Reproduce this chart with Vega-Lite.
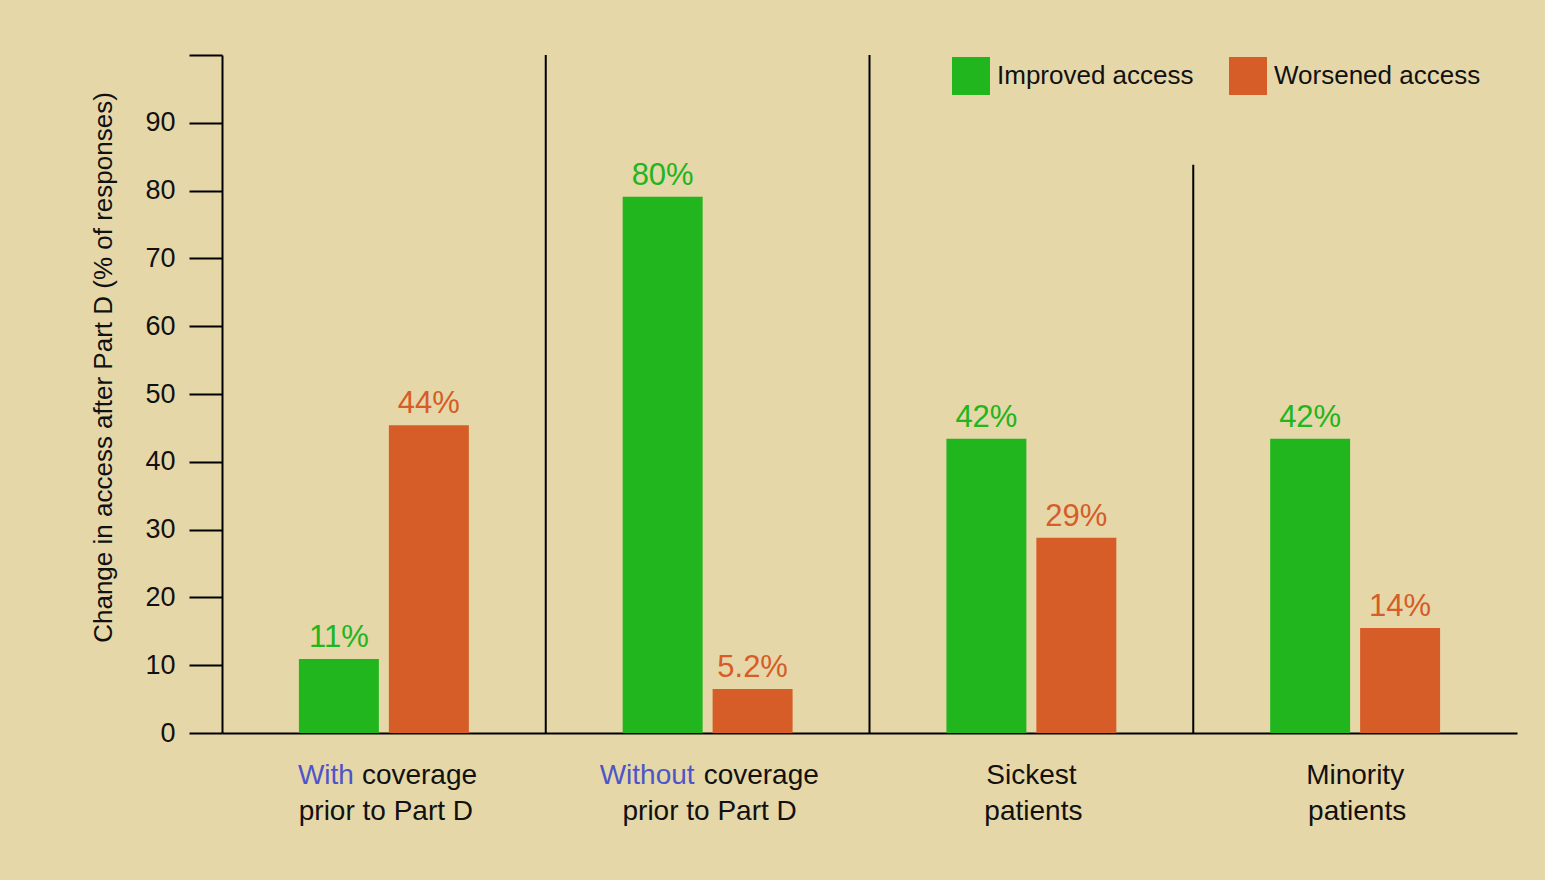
{
  "$schema": "https://vega.github.io/schema/vega-lite/v6.json",
  "width": 1295,
  "height": 678,
  "autosize": {"type": "none"},
  "padding": {"left": 222, "top": 55, "right": 28, "bottom": 147},
  "background": "#e6d7a8",
  "config": {"view": {"stroke": null}, "axis": {"grid": false}},
  "datasets": {
    "bars": [
      {"group": "With coverage prior to Part D", "series": "Improved access", "value": 10.9, "label": "11%"},
      {"group": "With coverage prior to Part D", "series": "Worsened access", "value": 45.4, "label": "44%"},
      {"group": "Without coverage prior to Part D", "series": "Improved access", "value": 79.1, "label": "80%"},
      {"group": "Without coverage prior to Part D", "series": "Worsened access", "value": 6.5, "label": "5.2%"},
      {"group": "Sickest patients", "series": "Improved access", "value": 43.4, "label": "42%"},
      {"group": "Sickest patients", "series": "Worsened access", "value": 28.8, "label": "29%"},
      {"group": "Minority patients", "series": "Improved access", "value": 43.4, "label": "42%"},
      {"group": "Minority patients", "series": "Worsened access", "value": 15.5, "label": "14%"}
    ],
    "seps": [
      {"group": "Without coverage prior to Part D", "value": 100},
      {"group": "Sickest patients", "value": 100},
      {"group": "Minority patients", "value": 83.8}
    ],
    "xlabels": [
      {"group": "With coverage prior to Part D", "part": "lead1", "text": "With"},
      {"group": "With coverage prior to Part D", "part": "rest1", "text": "coverage"},
      {"group": "Without coverage prior to Part D", "part": "lead2", "text": "Without"},
      {"group": "Without coverage prior to Part D", "part": "rest2", "text": "coverage"},
      {"group": "Sickest patients", "part": "title", "text": "Sickest"},
      {"group": "Minority patients", "part": "title", "text": "Minority"},
      {"group": "With coverage prior to Part D", "part": "line2", "text": "prior to Part D"},
      {"group": "Without coverage prior to Part D", "part": "line2", "text": "prior to Part D"},
      {"group": "Sickest patients", "part": "line2", "text": "patients"},
      {"group": "Minority patients", "part": "line2", "text": "patients"}
    ]
  },
  "layer": [
    {
      "data": {"name": "bars"},
      "mark": {"type": "bar"},
      "encoding": {
        "x": {"field": "group", "type": "nominal",
          "scale": {"domain": ["With coverage prior to Part D", "Without coverage prior to Part D", "Sickest patients", "Minority patients"], "paddingInner": 0, "paddingOuter": 0},
          "axis": {"labels": false, "ticks": false, "domainColor": "black", "domainWidth": 2, "title": null}},
        "xOffset": {"field": "series", "type": "nominal",
          "scale": {"domain": ["Improved access", "Worsened access"], "paddingInner": 0.111, "paddingOuter": 0.855}},
        "y": {"field": "value", "type": "quantitative",
          "scale": {"domain": [0, 100], "nice": false},
          "axis": {"values": [0, 10, 20, 30, 40, 50, 60, 70, 80, 90, 100], "tickSize": 33, "tickWidth": 2, "tickColor": "black",
            "domainColor": "black", "domainWidth": 2, "labelFont": "Liberation Sans", "labelFontSize": 27, "labelColor": "#111",
            "labelPadding": 14, "labelExpr": "datum.value == 100 ? '' : datum.label",
            "title": "Change in access after Part D (% of responses)", "titleFont": "Liberation Sans", "titleFontSize": 26,
            "titleFontWeight": "normal", "titleColor": "#111", "titleAngle": -90, "titleX": -111, "titleY": 312,
            "titleAlign": "center", "titleBaseline": "alphabetic"}},
        "color": {"field": "series", "type": "nominal",
          "scale": {"domain": ["Improved access", "Worsened access"], "range": ["#21b51e", "#d65c28"]},
          "legend": {"orient": "none", "legendX": 730, "legendY": 2, "direction": "horizontal", "title": null,
            "symbolType": "square", "symbolSize": 1444, "symbolStrokeWidth": 0, "symbolOpacity": 1,
            "labelFont": "Liberation Sans", "labelFontSize": 26, "labelColor": "#111", "labelOffset": 7, "labelLimit": 400, "columnPadding": 35}}
      }
    },
    {
      "data": {"name": "bars"},
      "mark": {"type": "text", "baseline": "alphabetic", "dy": -12, "font": "Liberation Sans", "fontSize": 31},
      "encoding": {
        "x": {"field": "group", "type": "nominal"},
        "xOffset": {"field": "series", "type": "nominal"},
        "y": {"field": "value", "type": "quantitative", "title": "Change in access after Part D (% of responses)"},
        "text": {"field": "label"},
        "color": {"field": "series", "type": "nominal"}
      }
    },
    {
      "data": {"name": "seps"},
      "mark": {"type": "rule", "color": "black", "strokeWidth": 2},
      "encoding": {
        "x": {"field": "group", "type": "nominal", "bandPosition": 0},
        "y": {"field": "value", "type": "quantitative", "title": "Change in access after Part D (% of responses)"},
        "y2": {"datum": 0}
      }
    },
    {
      "data": {"name": "xlabels"},
      "transform": [{"filter": "datum.part == 'lead1'"}],
      "mark": {"type": "text", "align": "right", "baseline": "alphabetic", "dx": -30, "dy": 51, "font": "Liberation Sans", "fontSize": 28, "color": "#4d55c8"},
      "encoding": {"x": {"field": "group", "type": "nominal"}, "y": {"datum": 0}, "text": {"field": "text"}}
    },
    {
      "data": {"name": "xlabels"},
      "transform": [{"filter": "datum.part == 'rest1'"}],
      "mark": {"type": "text", "align": "left", "baseline": "alphabetic", "dx": -22, "dy": 51, "font": "Liberation Sans", "fontSize": 28, "color": "#111"},
      "encoding": {"x": {"field": "group", "type": "nominal"}, "y": {"datum": 0}, "text": {"field": "text"}}
    },
    {
      "data": {"name": "xlabels"},
      "transform": [{"filter": "datum.part == 'lead2'"}],
      "mark": {"type": "text", "align": "right", "baseline": "alphabetic", "dx": -13, "dy": 51, "font": "Liberation Sans", "fontSize": 28, "color": "#4d55c8"},
      "encoding": {"x": {"field": "group", "type": "nominal"}, "y": {"datum": 0}, "text": {"field": "text"}}
    },
    {
      "data": {"name": "xlabels"},
      "transform": [{"filter": "datum.part == 'rest2'"}],
      "mark": {"type": "text", "align": "left", "baseline": "alphabetic", "dx": -4, "dy": 51, "font": "Liberation Sans", "fontSize": 28, "color": "#111"},
      "encoding": {"x": {"field": "group", "type": "nominal"}, "y": {"datum": 0}, "text": {"field": "text"}}
    },
    {
      "data": {"name": "xlabels"},
      "transform": [{"filter": "datum.part == 'title'"}],
      "mark": {"type": "text", "align": "center", "baseline": "alphabetic", "dy": 51, "font": "Liberation Sans", "fontSize": 28, "color": "#111"},
      "encoding": {"x": {"field": "group", "type": "nominal"}, "y": {"datum": 0}, "text": {"field": "text"}}
    },
    {
      "data": {"name": "xlabels"},
      "transform": [{"filter": "datum.part == 'line2'"}],
      "mark": {"type": "text", "align": "center", "baseline": "alphabetic", "dy": 87, "dx": 2, "font": "Liberation Sans", "fontSize": 28, "color": "#111"},
      "encoding": {"x": {"field": "group", "type": "nominal"}, "y": {"datum": 0}, "text": {"field": "text"}}
    }
  ]
}
